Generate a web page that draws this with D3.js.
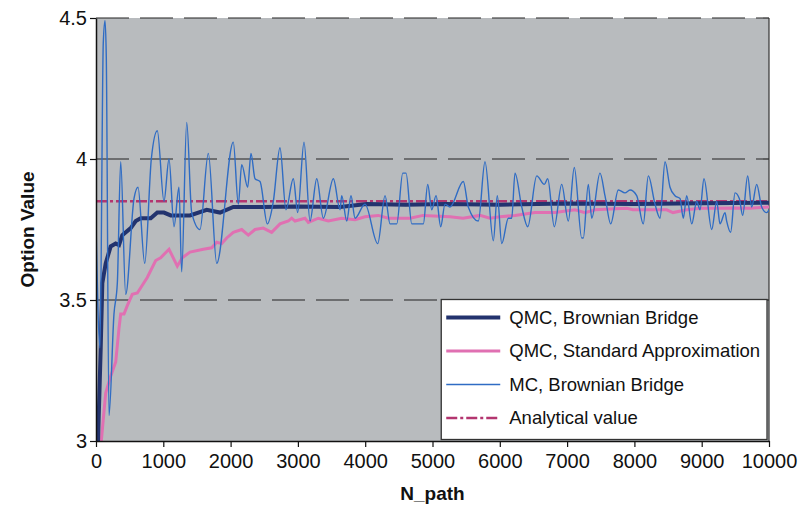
<!DOCTYPE html>
<html>
<head>
<meta charset="utf-8">
<title>Option value convergence</title>
<script src="https://d3js.org/d3.v7.min.js"></script>
<style>
  body { margin: 0; background: #fff; }
  text { font-family: "Liberation Sans", Arial, sans-serif; fill: #111; }
</style>
</head>
<body>
<div id="chart"></div>
<script>
// data
var analytical = 3.85;

var qmcBB = [[30,3.00],[70,3.33],[94,3.56],[144,3.63],[218,3.69],[293,3.70],[342,3.695],[391,3.73],
  [516,3.755],[590,3.78],[664,3.79],[813,3.79],[911,3.81],[1010,3.81],[1110,3.80],[1308,3.80],
  [1397,3.80],[1645,3.82],[1843,3.81],[2040,3.83],[2482,3.83],[2982,3.832],[3626,3.83],[4023,3.84],
  [4600,3.838],[5200,3.84],[6000,3.838],[7000,3.842],[8000,3.84],[9000,3.843],[10000,3.845]];

var qmcStd = [[79,3.00],[144,3.17],[218,3.23],[293,3.28],[342,3.40],[367,3.45],[416,3.45],[465,3.48],
  [539,3.52],[614,3.525],[762,3.58],[887,3.64],[961,3.65],[1085,3.68],[1208,3.62],[1282,3.65],
  [1397,3.67],[1595,3.68],[1719,3.685],[1794,3.705],[1868,3.70],[1942,3.72],[2040,3.74],[2165,3.75],
  [2263,3.73],[2363,3.75],[2486,3.755],[2610,3.74],[2734,3.77],[2858,3.78],[2908,3.79],[2957,3.78],
  [3106,3.79],[3155,3.775],[3304,3.79],[3452,3.78],[3651,3.79],[3849,3.785],[3997,3.795],[4195,3.80],
  [4344,3.79],[4666,3.79],[4859,3.80],[5260,3.795],[5454,3.79],[5706,3.80],[5854,3.79],[6003,3.795],
  [6226,3.80],[6523,3.81],[6820,3.81],[7117,3.82],[7266,3.81],[7415,3.82],[7886,3.825],[7979,3.82],
  [8183,3.82],[8480,3.82],[8573,3.81],[8777,3.82],[8975,3.825],[9223,3.825],[9465,3.826],[9713,3.825],
  [10000,3.83]];

var mcBB = [[0,3.78],[59,3.33],[108,4.41],[134,4.49],[153,4.36],[193,3.09],[267,3.45],[317,3.56],
  [367,3.99],[441,3.52],[565,3.86],[624,3.90],[724,3.63],[822,4.00],[911,4.10],[1010,3.85],[1085,4.00],
  [1159,3.76],[1233,3.90],[1273,3.60],[1348,4.13],[1422,3.81],[1545,3.75],[1669,4.02],[1794,3.63],
  [2040,4.06],[2115,3.84],[2165,3.98],[2254,3.90],[2303,4.02],[2363,3.93],[2437,3.92],[2546,3.77],
  [2635,3.85],[2734,4.04],[2823,3.82],[2932,3.93],[2997,3.81],[3091,4.06],[3180,3.78],[3280,3.93],
  [3378,3.79],[3527,3.93],[3626,3.82],[3651,3.87],[3726,3.78],[3789,3.87],[3849,3.79],[3997,3.84],
  [4186,3.70],[4295,3.87],[4369,3.77],[4469,3.77],[4558,3.95],[4607,3.95],[4692,3.77],[4864,3.77],
  [4929,3.91],[4989,3.82],[5053,3.87],[5122,3.76],[5186,3.84],[5260,3.83],[5458,3.92],[5532,3.83],
  [5681,3.78],[5780,3.99],[5904,3.71],[5963,3.87],[6029,3.70],[6127,3.79],[6177,3.79],[6226,3.95],
  [6326,3.83],[6415,3.76],[6549,3.94],[6662,3.91],[6712,3.93],[6810,3.76],[6920,3.91],[7018,3.78],
  [7107,3.97],[7217,3.72],[7241,3.72],[7315,3.91],[7366,3.79],[7489,3.95],[7563,3.87],[7648,3.77],
  [7761,3.89],[7860,3.88],[7935,3.89],[8034,3.87],[8132,3.77],[8207,3.94],[8306,3.84],[8381,3.79],
  [8455,3.99],[8529,3.90],[8603,3.87],[8678,3.86],[8727,3.79],[8777,3.87],[8852,3.77],[8926,3.85],
  [8975,3.82],[9034,3.93],[9149,3.75],[9223,3.85],[9272,3.77],[9346,3.81],[9371,3.78],[9430,3.74],
  [9495,3.88],[9559,3.86],[9609,3.80],[9683,3.94],[9743,3.83],[9817,3.91],[9891,3.83],[9966,3.81],
  [10000,3.82]];

var xTicks = d3.range(0, 10001, 1000);
var yTicks = [3, 3.5, 4, 4.5];
var legendNames = ["QMC, Brownian Bridge", "QMC, Standard Approximation", "MC, Brownian Bridge", "Analytical value"];

var margin = {top: 18, right: 35, bottom: 66, left: 96},
    width = 804 - margin.left - margin.right,
    height = 507 - margin.top - margin.bottom;

var svg = d3.select("#chart").append("svg")
    .attr("width", 804)
    .attr("height", 507)
  .append("g")
    .attr("transform", "translate(" + margin.left + "," + margin.top + ")");

var x = d3.scaleLinear().domain([0, 10000]).range([0, width]);
var y = d3.scaleLinear().domain([3, 4.5]).range([height, 0]);

svg.append("rect")
    .attr("width", width)
    .attr("height", height)
    .attr("fill", "#b8bbbe");

svg.append("clipPath").attr("id", "clip")
  .append("rect").attr("width", width).attr("height", height);

// dashed gridlines
svg.selectAll(".grid")
    .data([3.5, 4, 4.5])
  .enter().append("line")
    .attr("x1", 0).attr("x2", width)
    .attr("y1", function(d) { return y(d); })
    .attr("y2", function(d) { return y(d); })
    .attr("stroke", "#222")
    .attr("stroke-width", 1.2)
    .attr("stroke-dasharray", "33,11");

svg.append("line")
    .attr("x1", width).attr("x2", width)
    .attr("y1", 0).attr("y2", height)
    .attr("stroke", "#333").attr("stroke-width", 1.2);

var line = d3.line()
    .x(function(d) { return x(d[0]); })
    .y(function(d) { return y(d[1]); });

var lines = svg.append("g").attr("clip-path", "url(#clip)");

lines.append("path")
    .datum(qmcStd)
    .attr("fill", "none")
    .attr("stroke", "#e070b2")
    .attr("stroke-width", 3)
    .attr("d", line);

lines.append("path")
    .datum([[0, analytical], [10000, analytical]])
    .attr("fill", "none")
    .attr("stroke", "#b3356f")
    .attr("stroke-width", 2.5)
    .attr("stroke-dasharray", "11,3,3,3")
    .attr("d", line);

lines.append("path")
    .datum(qmcBB)
    .attr("fill", "none")
    .attr("stroke", "#23336e")
    .attr("stroke-width", 4)
    .attr("d", line);

lines.append("path")
    .datum(mcBB)
    .attr("fill", "none")
    .attr("stroke", "#2f6cc4")
    .attr("stroke-width", 1.4)
    .attr("d", line.curve(d3.curveMonotoneX));

// axes
var xAxis = svg.append("g")
    .attr("transform", "translate(0," + height + ")")
    .call(d3.axisBottom(x).tickValues(xTicks).tickSize(6).tickSizeOuter(0).tickFormat(d3.format("d")));

var yAxis = svg.append("g")
    .call(d3.axisLeft(y).tickValues(yTicks).tickSize(6).tickSizeOuter(0).tickFormat(function(d) { return d; }));

[xAxis, yAxis].forEach(function(a) {
  a.select(".domain").attr("stroke", "#111").attr("stroke-width", 1.5);
  a.selectAll(".tick line").attr("stroke", "#111").attr("stroke-width", 1.2);
  a.selectAll(".tick text").attr("font-size", "20px").attr("fill", "#111")
    .attr("font-family", "'Liberation Sans', Arial, sans-serif");
});
xAxis.selectAll(".tick text").attr("dy", "0.9em");
yAxis.selectAll(".tick text").attr("x", -9);

svg.append("text")
    .attr("x", width / 2)
    .attr("y", height + 59)
    .attr("text-anchor", "middle")
    .attr("font-size", "19px")
    .attr("font-weight", "bold")
    .text("N_path");

svg.append("text")
    .attr("transform", "translate(-62," + (height / 2) + ") rotate(-90)")
    .attr("text-anchor", "middle")
    .attr("font-size", "19px")
    .attr("font-weight", "bold")
    .text("Option Value");

// legend
var legend = svg.append("g")
    .attr("transform", "translate(" + (x(5130)) + "," + (y(3.5) - 0.5) + ")");

legend.append("rect")
    .attr("width", x(10000) - x(5130) - 2)
    .attr("height", height - y(3.5) - 1)
    .attr("fill", "#fff")
    .attr("stroke", "#333")
    .attr("stroke-width", 1.3);

var legendStyle = [
  {color: "#23336e", w: 4, dash: null},
  {color: "#e070b2", w: 3, dash: null},
  {color: "#2f6cc4", w: 1.4, dash: null},
  {color: "#b3356f", w: 2.5, dash: "11,3,3,3"}
];

var row = legend.selectAll(".row")
    .data(legendNames)
  .enter().append("g")
    .attr("transform", function(d, i) { return "translate(0," + (18 + i * 33.5) + ")"; });

row.append("line")
    .attr("x1", 5).attr("x2", 59)
    .attr("stroke", function(d, i) { return legendStyle[i].color; })
    .attr("stroke-width", function(d, i) { return legendStyle[i].w; })
    .attr("stroke-dasharray", function(d, i) { return legendStyle[i].dash; });

row.append("text")
    .attr("x", 68)
    .attr("dy", "0.35em")
    .attr("font-size", "18.5px")
    .text(function(d) { return d; });
</script>
</body>
</html>
